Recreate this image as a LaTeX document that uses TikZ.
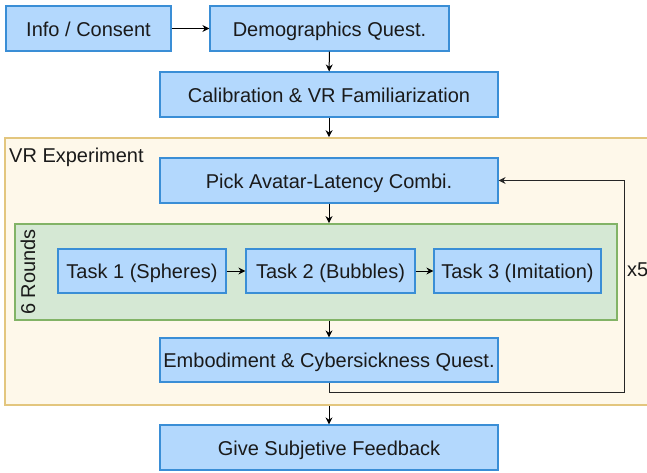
\documentclass[tikz,border=0pt]{standalone}
\usepackage{fontspec}
\setmainfont{Liberation Sans}
\usetikzlibrary{arrows.meta,calc}
\definecolor{bfill}{HTML}{B3D8FD}
\definecolor{bdraw}{HTML}{3A8ED6}
\definecolor{gfill}{HTML}{D5E8D4}
\definecolor{gdraw}{HTML}{82B366}
\definecolor{ofill}{HTML}{FEF8EA}
\definecolor{odraw}{HTML}{E3C67E}
\definecolor{txt}{HTML}{1A1A1A}
\tikzset{
  bbox/.style={draw=bdraw,fill=bfill,line width=1.2pt,inner sep=0pt,text=txt,
    font=\fontsize{20}{22}\selectfont,text height=15pt,text depth=0pt},
  arr/.style={-{Stealth[length=7pt,width=7pt]},line width=1pt,black},
  lbl/.style={text=txt,font=\fontsize{20}{22}\selectfont,inner sep=0pt}
}
\begin{document}
\begin{tikzpicture}[x=1pt,y=-1pt]
\useasboundingbox (0,0) rectangle (647,472);
\node[draw=odraw,fill=ofill,line width=1.6pt,minimum width=655pt,minimum height=267pt,inner sep=0pt] (outer) at (332.5,271.5) {};
\node[draw=gdraw,fill=gfill,line width=1.8pt,minimum width=602pt,minimum height=96pt,inner sep=0pt] (green) at (316,272) {};
\node[lbl,anchor=west] (vr) at (9,157) {VR Experiment};
\node[lbl,rotate=90] (rounds) at (28,272) {6 Rounds};
\node[bbox,minimum width=165pt,minimum height=45pt] (info) at (88.5,28.5) {Info / Consent};
\node[bbox,minimum width=239pt,minimum height=45pt] (demo) at (329.5,28.5) {Demographics Quest.};
\node[bbox,minimum width=338pt,minimum height=45pt] (calib) at (329,94.5) {Calibration \& VR Familiarization};
\node[bbox,minimum width=338pt,minimum height=45pt] (pick) at (329,180.5) {Pick Avatar-Latency Combi.};
\node[bbox,minimum width=168pt,minimum height=44pt] (t1) at (142,271) {Task 1 (Spheres)};
\node[bbox,minimum width=169pt,minimum height=44pt] (t2) at (330.5,271) {Task 2 (Bubbles)};
\node[bbox,minimum width=167pt,minimum height=44pt] (t3) at (517.5,271) {Task 3 (Imitation)};
\node[bbox,minimum width=338pt,minimum height=44pt] (emb) at (329,360) {Embodiment \& Cybersickness Quest.};
\node[bbox,minimum width=338pt,minimum height=45pt] (give) at (329,447.5) {Give Subjetive Feedback};
\node[lbl,anchor=west] (x5) at (627,270) {x5};
\coordinate (lp) at (624,392);
\draw[arr] (info) -- (demo);
\draw[arr] (demo) -- (calib);
\draw[arr] (calib.south) -- (calib.south |- outer.north);
\draw[arr] (pick.south) -- (pick.south |- green.north);
\draw[arr] (t1) -- (t2);
\draw[arr] (t2) -- (t3);
\draw[arr] (emb.north |- green.south) -- (emb.north);
\draw[arr] (give.north |- outer.south) -- (give.north);
\draw[arr,draw=black!85] (emb.south) |- (lp) |- (pick.east);
\end{tikzpicture}
\end{document}
